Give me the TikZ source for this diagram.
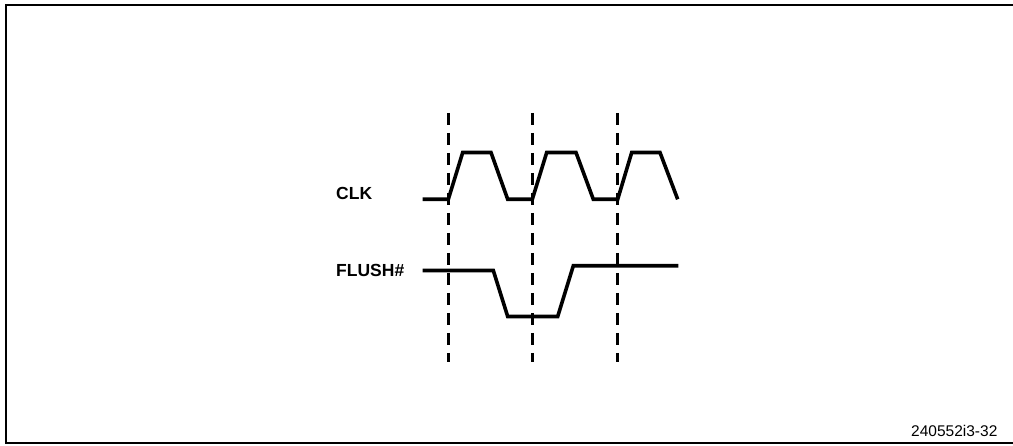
\documentclass[tikz,border=0pt]{standalone}
\usepackage{fontspec}
\setmainfont{Liberation Sans}
\begin{document}
\begin{tikzpicture}[x=1pt,y=-1pt,
  frame/.style={line width=2pt},
  wave/.style={line width=3.6pt,line join=miter},
  tick/.style={line width=2.5pt,dash pattern=on 12pt off 8pt},
  sig/.style={font=\fontsize{17.5}{17.5}\selectfont\bfseries,anchor=base west,inner sep=0pt},
  code/.style={font=\fontsize{15.5}{15.5}\selectfont,anchor=base west,inner sep=0pt}]
\useasboundingbox (0,0) rectangle (1013,446);
% frame (right side cropped)
\draw[frame] (1013,5.5) -- (5.5,5.5) -- (5.5,443.3) -- (1013,443.3);
% labels
\node[sig] (clk) at (336,200) {CLK};
\node[sig] (flush) at (336,277) {FLUSH\#};
\node[code] (id) at (911,436.5) {240552i3-32};
% dashed reference lines
\coordinate (d1t) at (448.3,113); \coordinate (d1b) at (448.3,362);
\coordinate (d2t) at (532.3,113); \coordinate (d2b) at (532.3,362);
\coordinate (d3t) at (617.7,113); \coordinate (d3b) at (617.7,362);
\draw[tick] (d1t) -- (d1b);
\draw[tick] (d2t) -- (d2b);
\draw[tick] (d3t) -- (d3b);
% CLK waveform
\draw[wave] (422.7,199.3) -- (448.3,199.3) -- (462.7,152.5) -- (491,152.5)
  -- (507.7,199.3) -- (532.3,199.3) -- (546.7,152.5) -- (576,152.5)
  -- (593.3,199.3) -- (617.7,199.3) -- (631.7,152.5) -- (660,152.5) -- (677.7,199.3);
% FLUSH# waveform
\draw[wave] (422.7,270.5) -- (493.3,270.5) -- (507.7,316.5) -- (557.7,316.5)
  -- (573.3,265.8) -- (678.3,265.8);
\end{tikzpicture}
\end{document}
